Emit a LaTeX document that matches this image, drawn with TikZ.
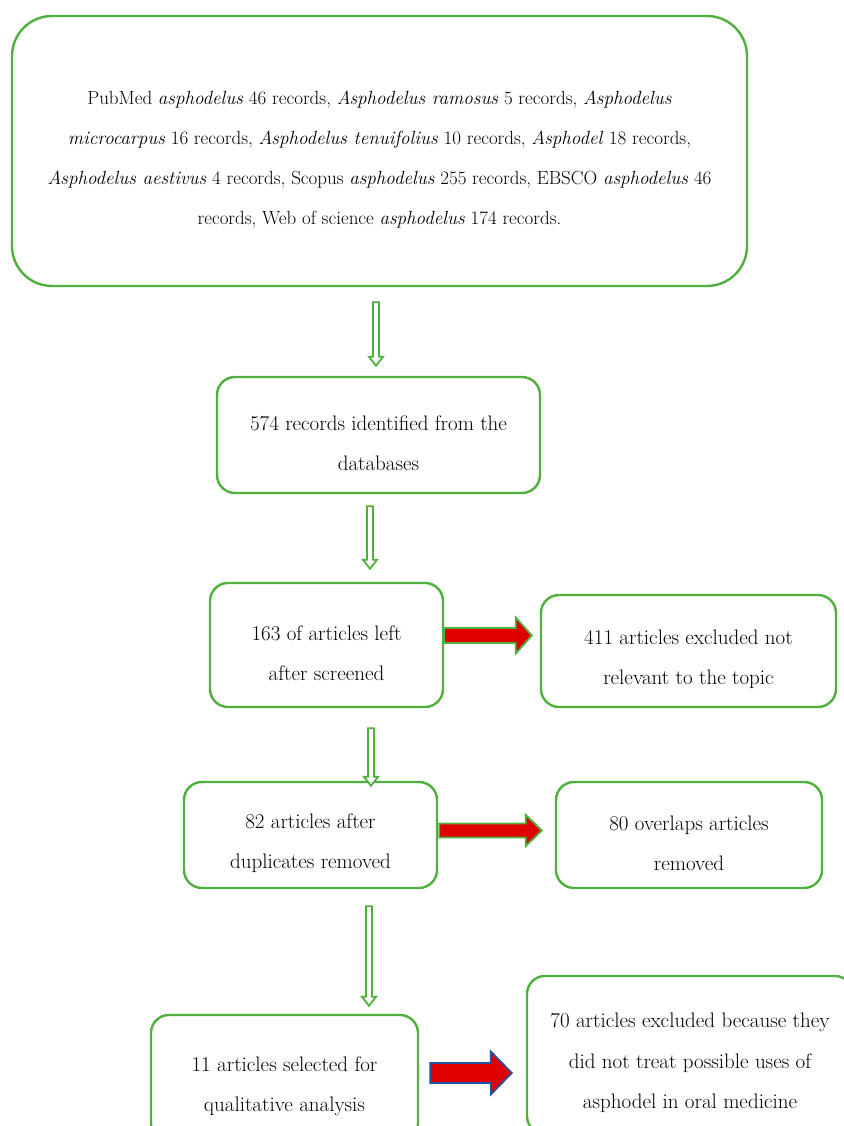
\documentclass[tikz,border=0pt]{standalone}
\usepackage{tikz}
\usetikzlibrary{calc}

\definecolor{boxgreen}{RGB}{80,176,62}
\definecolor{arrowred}{RGB}{224,0,0}
\definecolor{arrowblue}{RGB}{36,84,160}

\newcommand{\boxtop}{\rule{0pt}{31pt}}

\tikzset{
  block/.style n args={3}{to path={let \p1=(\tikztostart), \p2=(\tikztotarget) in
    (\x1,\y1-#1) -- (\x2-#3,\y1-#1) -- (\x2-#3,\y1-#2) -- (\x2,\y1)
    -- (\x2-#3,\y1+#2) -- (\x2-#3,\y1+#1) -- (\x1,\y1+#1) -- cycle}}
}

\begin{document}
\begin{tikzpicture}[x=1pt, y=1pt, font={\fontsize{21}{40.5}\selectfont}]
\tikzstyle{box}=[draw=boxgreen, line width=2.4pt, rounded corners=18pt, align=center, inner sep=0pt]
\tikzstyle{down}=[draw=boxgreen, line width=1.8pt, fill=white, to path={let \p1=(\tikztostart), \p2=(\tikztotarget) in
    (\x1-3pt,\y1) -- (\x1-3pt,\y2+9pt) -- (\x1-7pt,\y2+9pt) -- (\x1,\y2)
    -- (\x1+7pt,\y2+9pt) -- (\x1+3pt,\y2+9pt) -- (\x1+3pt,\y1) -- cycle}]
\tikzstyle{redarrow}=[draw=boxgreen, line width=1.8pt, fill=arrowred]
\tikzstyle{bluearrow}=[draw=arrowblue, line width=1.8pt, fill=arrowred]

\useasboundingbox (0,0) rectangle (843,1126);

\node[box, rounded corners=40pt, minimum width=735pt, minimum height=270pt, font={\fontsize{19}{40}\selectfont}] (sources) at (379.5,975)
  {\boxtop PubMed \textit{asphodelus} 46 records, \textit{Asphodelus ramosus} 5 records, \textit{Asphodelus}\\
   \textit{microcarpus} 16 records, \textit{Asphodelus tenuifolius} 10 records, \textit{Asphodel} 18 records,\\
   \textit{Asphodelus aestivus} 4 records, Scopus \textit{asphodelus} 255 records, EBSCO \textit{asphodelus} 46\\
   records, Web of science \textit{asphodelus} 174 records.};
\node[box, minimum width=323pt, minimum height=116pt] (identified) at (378.5,691)
  {\boxtop 574 records identified from the\\ databases};
\node[box, minimum width=233pt, minimum height=124pt] (screened) at (326.5,481)
  {\boxtop 163 of articles left\\ after screened};
\node[box, minimum width=295pt, minimum height=112pt] (irrelevant) at (688.5,475)
  {\boxtop 411 articles excluded not\\ relevant to the topic};
\node[box, minimum width=253pt, minimum height=106pt] (duplicates) at (310.5,291)
  {\boxtop 82 articles after\\ duplicates removed};
\node[box, minimum width=266pt, minimum height=106pt] (overlaps) at (689,291)
  {\boxtop 80 overlaps articles\\ removed};
\node[box, minimum width=267pt, minimum height=126pt] (selected) at (284.5,48)
  {\boxtop 11 articles selected for\\ qualitative analysis};
\node[box, minimum width=326pt, minimum height=158pt] (excluded) at (690,71)
  {\boxtop 70 articles excluded because they\\ did not treat possible uses of\\ asphodel in oral medicine};

\path
([xshift=-3.5pt,yshift=-15pt]sources.south)   edge[down] ([yshift=10pt]identified.north)
([xshift=-8.5pt,yshift=-12pt]identified.south) edge[down] ([yshift=13pt]screened.north)
([xshift=44.5pt,yshift=-20pt]screened.south)  edge[down] ([yshift=-5pt]duplicates.north)
([xshift=58.5pt,yshift=-17pt]duplicates.south) edge[down] ([yshift=8pt]selected.north)

([yshift=9.5pt]screened.east)            edge[redarrow, block={7.5pt}{18pt}{16pt}]  ([xshift=-8pt]irrelevant.west)
([xshift=1pt,yshift=4.5pt]duplicates.east) edge[redarrow, block={7pt}{15.5pt}{16pt}]  ([xshift=-13pt]overlaps.west)
([xshift=11pt,yshift=5pt]selected.east)    edge[bluearrow, block={10pt}{21.5pt}{21pt}] ([xshift=-14pt]excluded.west);

\end{tikzpicture}
\end{document}
